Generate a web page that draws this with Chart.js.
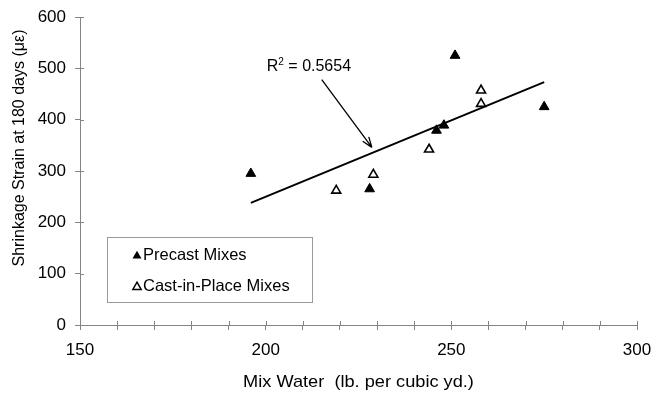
<!DOCTYPE html>
<html>
<head>
<meta charset="utf-8">
<script src="https://cdn.jsdelivr.net/npm/chart.js@4/dist/chart.umd.min.js"></script>
<style>
    html, body { margin: 0; padding: 0; background: #ffffff; }
    #wrap { width: 654px; height: 394px; position: relative; }
</style>
</head>
<body>
<div id="wrap"><canvas id="grafico"></canvas></div>
<script>
// ======================================
// DADOS
// ======================================
const precastWater = [196, 251, 275, 248, 246, 228];
const precastStrain = [295, 525, 425, 389, 379, 265];

const castInPlaceWater = [219, 229, 244, 258, 258];
const castInPlaceStrain = [262, 293, 342, 431, 457];

// linha de tendência (extremos)
const trendWater = [196, 275];
const trendStrain = [238, 473];

const xTicks = [150, 200, 250, 300];
const yTicks = [0, 100, 200, 300, 400, 500, 600];

const seriesNames = ['Precast Mixes', 'Cast-in-Place Mixes'];
const rSquaredText = '0.5654';
const xTitle = 'Mix Water  (lb. per cubic yd.)';
const yTitle = 'Shrinkage Strain at 180 days (\u03bc\u03b5)';

// anotação: posição do texto e da seta, em unidades dos eixos
const rLabelAt = [200.3, 495];
const arrowFrom = [215.1, 478];
const arrowTo = [228.6, 346];

// ======================================
// HELPERS
// ======================================
const FONT = "'Liberation Sans', Arial, Helvetica, sans-serif";
const AXIS_COLOR = '#858585';

function toPoints(xs, ys) {
    return xs.map((x, i) => ({ x: x, y: ys[i] }));
}

function triangle(ctx, x, y, r) {
    ctx.beginPath();
    ctx.moveTo(x, y - r);
    ctx.lineTo(x + Math.sin(2 * Math.PI / 3) * r, y + r / 2);
    ctx.lineTo(x - Math.sin(2 * Math.PI / 3) * r, y + r / 2);
    ctx.closePath();
}

// ======================================
// PLUGIN: títulos, legenda e anotação
// ======================================
const extras = {
    id: 'extras',
    afterDraw(chart) {
        const ctx = chart.ctx;
        const xs = chart.scales.x;
        const ys = chart.scales.y;
        const area = chart.chartArea;

        ctx.save();

        // marcas dos ticks para dentro (cruzando o eixo)
        ctx.strokeStyle = AXIS_COLOR;
        ctx.lineWidth = 1;
        ctx.beginPath();
        xs.ticks.forEach(t => {
            const px = Math.round(xs.getPixelForValue(t.value)) + 0.5;
            ctx.moveTo(px, area.bottom);
            ctx.lineTo(px, area.bottom - 4);
        });
        ys.ticks.forEach(t => {
            const py = Math.round(ys.getPixelForValue(t.value)) + 0.5;
            ctx.moveTo(area.left, py);
            ctx.lineTo(area.left + 4, py);
        });
        ctx.stroke();

        ctx.fillStyle = '#000';

        // título do eixo x (um pouco esticado na horizontal, como no original)
        ctx.font = '17px ' + FONT;
        ctx.textAlign = 'center';
        ctx.textBaseline = 'alphabetic';
        ctx.save();
        ctx.translate((area.left + area.right) / 2, 387);
        ctx.scale(1.07, 1);
        ctx.fillText(xTitle, 0, 0);
        ctx.restore();

        // título do eixo y
        ctx.font = '16px ' + FONT;
        ctx.textBaseline = 'middle';
        ctx.save();
        ctx.translate(19.5, 148);
        ctx.rotate(-Math.PI / 2);
        ctx.fillText(yTitle, 0, 0);
        ctx.restore();

        // legenda
        ctx.strokeStyle = '#9a9a9a';
        ctx.lineWidth = 1;
        ctx.strokeRect(107.5, 237.5, 205, 65);

        ctx.font = '16.5px ' + FONT;
        ctx.textAlign = 'left';
        ctx.textBaseline = 'middle';

        triangle(ctx, 137, 256, 5.2);
        ctx.fillStyle = '#000';
        ctx.fill();
        ctx.fillText(seriesNames[0], 143, 255);

        triangle(ctx, 137, 287, 4.8);
        ctx.fillStyle = '#fff';
        ctx.fill();
        ctx.strokeStyle = '#000';
        ctx.lineWidth = 1.5;
        ctx.stroke();
        ctx.fillStyle = '#000';
        ctx.fillText(seriesNames[1], 143, 286);

        // R² e seta
        const lx = xs.getPixelForValue(rLabelAt[0]);
        const ly = ys.getPixelForValue(rLabelAt[1]);
        ctx.textBaseline = 'alphabetic';
        ctx.font = '16px ' + FONT;
        ctx.fillText('R', lx, ly);
        let w = ctx.measureText('R').width;
        ctx.font = '10px ' + FONT;
        ctx.fillText('2', lx + w, ly - 6);
        w += ctx.measureText('2').width;
        ctx.font = '16px ' + FONT;
        ctx.fillText(' = ' + rSquaredText, lx + w, ly);

        const ax = xs.getPixelForValue(arrowFrom[0]);
        const ay = ys.getPixelForValue(arrowFrom[1]);
        const bx = xs.getPixelForValue(arrowTo[0]);
        const by = ys.getPixelForValue(arrowTo[1]);
        ctx.strokeStyle = '#000';
        ctx.lineWidth = 1.3;
        ctx.beginPath();
        ctx.moveTo(ax, ay);
        ctx.lineTo(bx, by);
        const ang = Math.atan2(by - ay, bx - ax);
        const head = 11;
        ctx.moveTo(bx, by);
        ctx.lineTo(bx - head * Math.cos(ang - 0.35), by - head * Math.sin(ang - 0.35));
        ctx.moveTo(bx, by);
        ctx.lineTo(bx - head * Math.cos(ang + 0.35), by - head * Math.sin(ang + 0.35));
        ctx.stroke();

        ctx.restore();
    }
};

// ======================================
// GRÁFICO
// ======================================
const ctx = document.getElementById('grafico');

new Chart(ctx, {
    type: 'scatter',
    data: {
        datasets: [
            {
                label: seriesNames[0],
                data: toPoints(precastWater, precastStrain),
                pointStyle: 'triangle',
                pointRadius: 5.6,
                pointHoverRadius: 5.6,
                backgroundColor: '#000',
                borderColor: '#000',
                borderWidth: 1,
                order: 1
            },
            {
                label: seriesNames[1],
                data: toPoints(castInPlaceWater, castInPlaceStrain),
                pointStyle: 'triangle',
                pointRadius: 5.2,
                pointHoverRadius: 5.2,
                backgroundColor: '#fff',
                borderColor: '#000',
                borderWidth: 1.6,
                order: 2
            },
            {
                type: 'line',
                label: 'Trend',
                data: toPoints(trendWater, trendStrain),
                borderColor: '#000',
                borderWidth: 2,
                pointRadius: 0,
                fill: false,
                order: 3
            }
        ]
    },
    options: {
        responsive: true,
        maintainAspectRatio: false,
        animation: false,
        layout: {
            padding: { top: 17, right: 17, bottom: 0, left: 0 }
        },
        plugins: {
            legend: { display: false },
            tooltip: { enabled: false }
        },
        scales: {
            x: {
                type: 'linear',
                min: xTicks[0],
                max: xTicks[xTicks.length - 1],
                afterFit: (scale) => {
                    scale.height = 69;
                    scale.paddingLeft = 0;
                    scale.paddingRight = 0;
                },
                afterBuildTicks: (scale) => {
                    const t = [];
                    for (let v = xTicks[0]; v <= xTicks[xTicks.length - 1]; v += 10) t.push({ value: v });
                    scale.ticks = t;
                },
                ticks: {
                    autoSkip: false,
                    maxRotation: 0,
                    padding: 10,
                    color: '#000',
                    font: { family: FONT, size: 17 },
                    callback: (v) => xTicks.includes(v) ? String(v) : ''
                },
                grid: {
                    drawOnChartArea: false,
                    color: AXIS_COLOR,
                    tickLength: 5
                },
                border: { color: AXIS_COLOR, width: 1 }
            },
            y: {
                type: 'linear',
                min: yTicks[0],
                max: yTicks[yTicks.length - 1],
                afterFit: (scale) => {
                    scale.width = 80;
                    scale.paddingTop = 0;
                    scale.paddingBottom = 0;
                },
                afterBuildTicks: (scale) => {
                    scale.ticks = yTicks.map(v => ({ value: v }));
                },
                ticks: {
                    padding: 9,
                    color: '#000',
                    font: { family: FONT, size: 17 }
                },
                grid: {
                    drawOnChartArea: false,
                    color: AXIS_COLOR,
                    tickLength: 5
                },
                border: { color: AXIS_COLOR, width: 1 }
            }
        }
    },
    plugins: [extras]
});
</script>
</body>
</html>
